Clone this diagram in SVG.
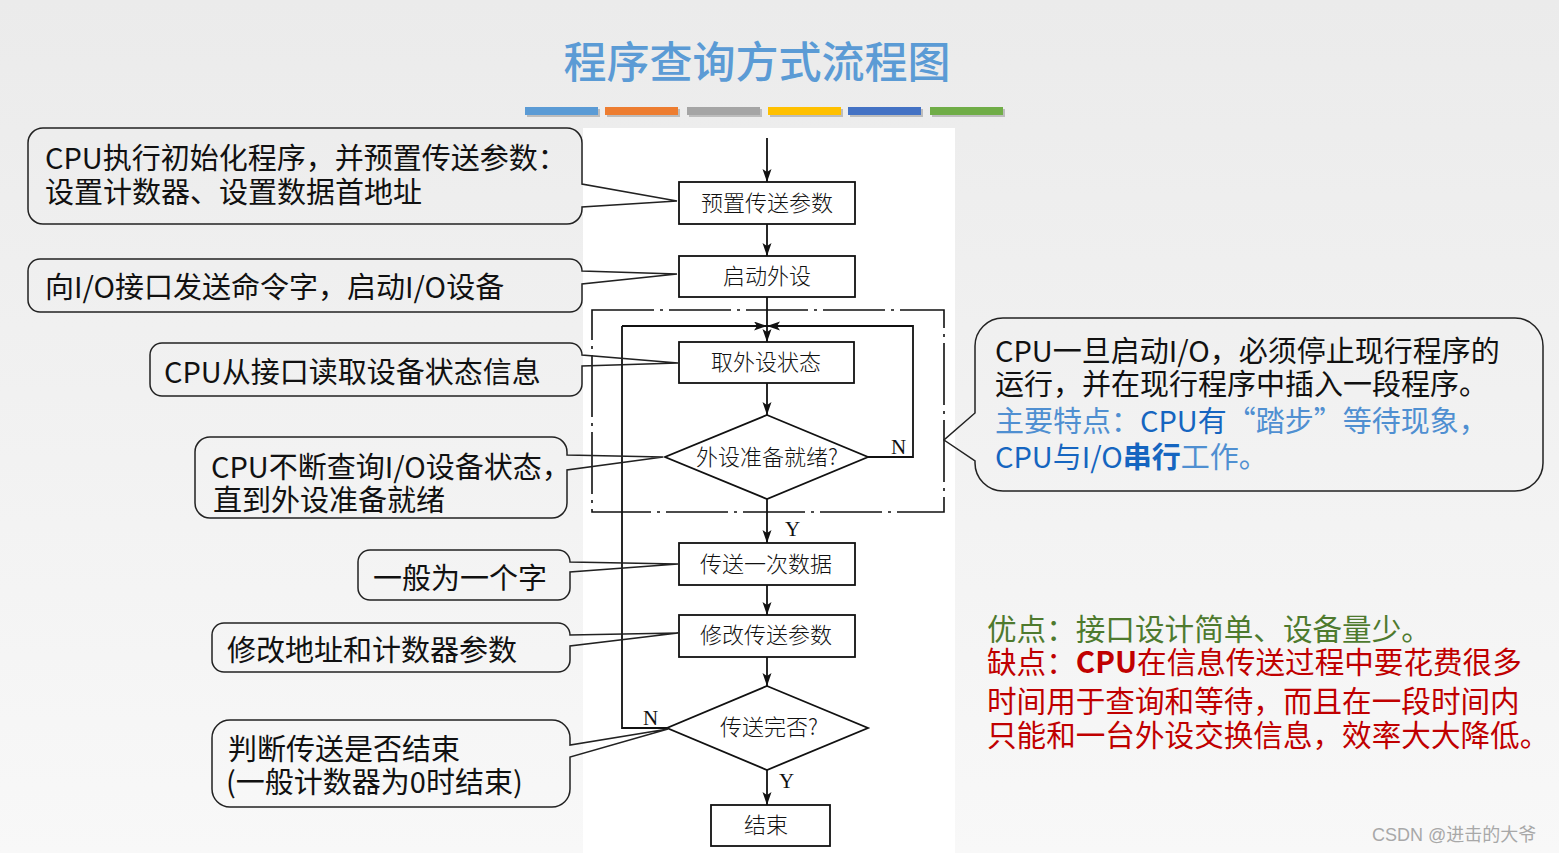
<svg xmlns="http://www.w3.org/2000/svg" width="1559" height="853" viewBox="0 0 1559 853">
<defs>
<linearGradient id="bg" x1="0" y1="0" x2="0" y2="1">
<stop offset="0" stop-color="#ebebeb"/>
<stop offset="1" stop-color="#f8f8f8"/>
</linearGradient>
<marker id="arr" markerUnits="userSpaceOnUse" markerWidth="14" markerHeight="10" refX="13" refY="4.5" orient="auto">
<path d="M0,0 L13,4.5 L0,9 L3,4.5 Z" fill="#111"/>
</marker>
<style>
.title{font-family:'Noto Sans CJK SC','Noto Sans',sans-serif;font-size:43px;font-weight:500;fill:#5b9bd5}
.call{fill:none;stroke:#222;stroke-width:1.5}
.ct{font-family:'Noto Sans CJK SC','Noto Sans',sans-serif;font-size:29px;fill:#111}
.box{fill:#fff;stroke:#111;stroke-width:1.8}
.bt{font-family:'Noto Sans CJK SC','Noto Sans',sans-serif;font-size:22px;font-weight:300;fill:#111;text-anchor:middle}
.yn{font-family:'Liberation Serif',serif;font-size:21px;fill:#111}
.ln{fill:none;stroke:#111;stroke-width:1.8}
.dd{fill:none;stroke:#111;stroke-width:1.6;stroke-dasharray:62 6 3 6}
.blt{fill:#4f8fd1}
.bdk{fill:#1565c0}
.good{font-family:'Noto Sans CJK SC','Noto Sans',sans-serif;font-size:29.6px;fill:#4e7a2e}
.bad{font-family:'Noto Sans CJK SC','Noto Sans',sans-serif;font-size:29.6px;fill:#c00000}
</style>
</defs>
<rect x="0" y="0" width="1559" height="853" fill="url(#bg)"/>
<rect x="583" y="128" width="372" height="725" fill="#fff"/>

<g id="title">
<text class="title" x="757" y="78" text-anchor="middle">程序查询方式流程图</text>
<g>
<rect x="527" y="109" width="73" height="8" fill="#bdbdbd"/>
<rect x="525" y="107" width="73" height="8" fill="#5b9bd5"/>
<rect x="607" y="109" width="73" height="8" fill="#bdbdbd"/>
<rect x="605" y="107" width="73" height="8" fill="#ed7d31"/>
<rect x="689" y="109" width="73" height="8" fill="#bdbdbd"/>
<rect x="687" y="107" width="73" height="8" fill="#a5a5a5"/>
<rect x="770" y="109" width="73" height="8" fill="#bdbdbd"/>
<rect x="768" y="107" width="73" height="8" fill="#ffc000"/>
<rect x="850" y="109" width="73" height="8" fill="#bdbdbd"/>
<rect x="848" y="107" width="73" height="8" fill="#4472c4"/>
<rect x="932" y="109" width="73" height="8" fill="#bdbdbd"/>
<rect x="930" y="107" width="73" height="8" fill="#70ad47"/>
</g>
</g>

<g id="connectors">
<rect class="dd" x="592" y="310" width="352" height="202"/>
<line class="ln" x1="767" y1="138" x2="767" y2="182" marker-end="url(#arr)"/>
<line class="ln" x1="767" y1="224" x2="767" y2="256" marker-end="url(#arr)"/>
<line class="ln" x1="767" y1="297" x2="767" y2="342" marker-end="url(#arr)"/>
<line class="ln" x1="622" y1="326" x2="767" y2="326" marker-end="url(#arr)"/>
<polyline class="ln" points="868,457 913,457 913,326 767,326" marker-end="url(#arr)"/>
<line class="ln" x1="767" y1="383" x2="767" y2="415" marker-end="url(#arr)"/>
<line class="ln" x1="767" y1="499" x2="767" y2="543" marker-end="url(#arr)"/>
<line class="ln" x1="767" y1="585" x2="767" y2="615" marker-end="url(#arr)"/>
<line class="ln" x1="767" y1="657" x2="767" y2="686" marker-end="url(#arr)"/>
<polyline class="ln" points="667,728 622,728 622,326"/>
<line class="ln" x1="767" y1="770" x2="767" y2="805" marker-end="url(#arr)"/>
<text class="yn" x="891" y="454">N</text>
<text class="yn" x="785" y="536">Y</text>
<text class="yn" x="643" y="725">N</text>
<text class="yn" x="779" y="788">Y</text>
</g>

<g id="n1"><rect class="box" x="679" y="182" width="176" height="42"/><text class="bt" x="767" y="211">预置传送参数</text></g>
<g id="n2"><rect class="box" x="679" y="256" width="176" height="41"/><text class="bt" x="767" y="284">启动外设</text></g>
<g id="n3"><rect class="box" x="679" y="342" width="175" height="41"/><text class="bt" x="766" y="370">取外设状态</text></g>
<g id="n4"><polygon class="box" points="767,415 868,457 767,499 665,457"/><text class="bt" x="767" y="465">外设准备就绪?</text></g>
<g id="n5"><rect class="box" x="679" y="543" width="176" height="42"/><text class="bt" x="766" y="572">传送一次数据</text></g>
<g id="n6"><rect class="box" x="679" y="615" width="176" height="42"/><text class="bt" x="766" y="643">修改传送参数</text></g>
<g id="n7"><polygon class="box" points="767,686 868,728 767,770 667,728"/><text class="bt" x="769" y="735">传送完否?</text></g>
<g id="n8"><rect class="box" x="711" y="805" width="119" height="41"/><text class="bt" x="766" y="833">结束</text></g>

<g id="c1">
<path class="call" d="M43,128 H567 A15 15 0 0 1 582,143 V184 L677,201 L582,207 V209 A15 15 0 0 1 567,224 H43 A15 15 0 0 1 28,209 V143 A15 15 0 0 1 43,128 Z"/>
<text class="ct" x="45" y="169">CPU执行初始化程序，并预置传送参数：</text>
<text class="ct" x="45" y="203">设置计数器、设置数据首地址</text>
</g>
<g id="c2">
<path class="call" d="M40,259 H570 A12 12 0 0 1 582,271 L677,274 L582,284 V300 A12 12 0 0 1 570,312 H40 A12 12 0 0 1 28,300 V271 A12 12 0 0 1 40,259 Z"/>
<text class="ct" x="45" y="298">向I/O接口发送命令字，启动I/O设备</text>
</g>
<g id="c3">
<path class="call" d="M162,343 H570 A12 12 0 0 1 582,355 L678,363 L582,366 V384 A12 12 0 0 1 570,396 H162 A12 12 0 0 1 150,384 V355 A12 12 0 0 1 162,343 Z"/>
<text class="ct" x="164" y="383">CPU从接口读取设备状态信息</text>
</g>
<g id="c4">
<path class="call" d="M210,437 H552 A15 15 0 0 1 567,452 V455 L663,457 L567,470 V503 A15 15 0 0 1 552,518 H210 A15 15 0 0 1 195,503 V452 A15 15 0 0 1 210,437 Z"/>
<text class="ct" x="211" y="478">CPU不断查询I/O设备状态，</text>
<text class="ct" x="213" y="511">直到外设准备就绪</text>
</g>
<g id="c5">
<path class="call" d="M370,550 H558 A12 12 0 0 1 570,562 L678,564 L570,572 V588 A12 12 0 0 1 558,600 H370 A12 12 0 0 1 358,588 V562 A12 12 0 0 1 370,550 Z"/>
<text class="ct" x="373" y="589">一般为一个字</text>
</g>
<g id="c6">
<path class="call" d="M224,623 H558 A12 12 0 0 1 570,635 L678,633 L570,646 V660 A12 12 0 0 1 558,672 H224 A12 12 0 0 1 212,660 V635 A12 12 0 0 1 224,623 Z"/>
<text class="ct" x="227" y="661">修改地址和计数器参数</text>
</g>
<g id="c7">
<path class="call" d="M230,720 H552 A18 18 0 0 1 570,738 V745 L668,729 L570,757 V789 A18 18 0 0 1 552,807 H230 A18 18 0 0 1 212,789 V738 A18 18 0 0 1 230,720 Z"/>
<text class="ct" x="228" y="760">判断传送是否结束</text>
<text class="ct" x="226" y="793">(一般计数器为0时结束)</text>
</g>

<g id="c8">
<path class="call" d="M1003,318 H1515 A28 28 0 0 1 1543,346 V463 A28 28 0 0 1 1515,491 H1003 A28 28 0 0 1 975,463 V461 L944,440 L975,413 V346 A28 28 0 0 1 1003,318 Z"/>
<text class="ct" x="995" y="362">CPU一旦启动I/O，必须停止现行程序的</text>
<text class="ct" x="995" y="395">运行，并在现行程序中插入一段程序。</text>
<text class="ct" x="995" y="432"><tspan class="blt">主要特点：</tspan><tspan class="bdk">CPU有</tspan><tspan class="blt">“踏步”等待现象，</tspan></text>
<text class="ct" x="995" y="468"><tspan class="bdk">CPU与I/O</tspan><tspan class="bdk" font-weight="bold">串行</tspan><tspan class="blt">工作。</tspan></text>
</g>

<g id="notes">
<text class="good" x="987" y="640">优点：接口设计简单、设备量少。</text>
<text class="bad" x="987" y="673">缺点：<tspan font-weight="bold">CPU</tspan>在信息传送过程中要花费很多</text>
<text class="bad" x="987" y="712">时间用于查询和等待，而且在一段时间内</text>
<text class="bad" x="987" y="746">只能和一台外设交换信息，效率大大降低。</text>
</g>

<text x="1372" y="841" font-family="'Liberation Sans','Noto Sans CJK SC',sans-serif" font-size="18" fill="#a8a8a8">CSDN @进击的大爷</text>
</svg>
